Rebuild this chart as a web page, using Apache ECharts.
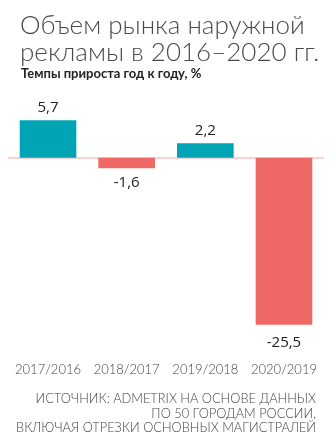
<!DOCTYPE html>
<html>
<head>
<meta charset="utf-8">
<script src="https://cdn.jsdelivr.net/npm/echarts@6/dist/echarts.min.js"></script>
<style>
  html, body { margin: 0; padding: 0; background: #fff; }
  #chart { width: 336px; height: 447px; }
</style>
</head>
<body>
<div id="chart"></div>
<script>
// Year-over-year growth of the outdoor advertising market, %
const periods = ['2017/2016', '2018/2017', '2019/2018', '2020/2019'];
const growth = [5.7, -1.6, 2.2, -25.5];

const titleText = 'Объем рынка наружной\nрекламы в 2016–2020 гг.';
const subtitleText = 'Темпы прироста год к году, %';
const sourceText = 'ИСТОЧНИК: ADMETRIX НА ОСНОВЕ ДАННЫХ\nПО 50 ГОРОДАМ РОССИИ,\nВКЛЮЧАЯ ОТРЕЗКИ ОСНОВНЫХ МАГИСТРАЛЕЙ';

const TEAL = '#00A4B4';
const CORAL = '#EE6966';

const chart = echarts.init(document.getElementById('chart'), null, { renderer: 'canvas' });

const fmt = v => String(v).replace('.', ',');

chart.setOption({
  backgroundColor: '#ffffff',
  animation: false,
  title: [
    {
      text: titleText,
      left: 15, top: 7,
      textStyle: { fontFamily: 'Lato', fontWeight: 300, fontSize: 26, lineHeight: 27, color: '#4a4a4a' }
    },
    {
      text: subtitleText,
      left: 16, top: 62,
      textStyle: { fontFamily: 'Lato', fontWeight: 'bold', fontSize: 13, color: '#222' }
    }
  ],
  graphic: [{
    type: 'text',
    x: 316, y: 392,
    style: {
      text: sourceText,
      align: 'right',
      verticalAlign: 'top',
      fontFamily: 'Lato', fontWeight: 300, fontSize: 12.8, lineHeight: 14.3,
      fill: '#444'
    }
  }],
  grid: { left: 8.7, right: 12.7, top: 118.4, height: 209.6, containLabel: false },
  xAxis: {
    type: 'category',
    data: periods,
    axisLine: { onZero: true, lineStyle: { color: '#F8C4C2', width: 1.5 } },
    axisTick: { show: false },
    axisLabel: {
      show: true,
      interval: 0,
      margin: 35,
      fontFamily: 'Lato',
      fontWeight: 300,
      fontSize: 13,
      color: '#444'
    }
  },
  yAxis: {
    type: 'value',
    min: -26, max: 6,
    show: false,
    splitLine: { show: false }
  },
  series: [{
    type: 'bar',
    barWidth: '72%',
    data: growth.map((v, i) => ({
      value: v,
      itemStyle: { color: v >= 0 ? TEAL : CORAL },
      label: {
        show: true,
        position: v >= 0 ? 'top' : 'bottom',
        distance: v >= 0 ? 5 : (v < -10 ? 11 : 7)
      }
    })),
    label: {
      formatter: p => fmt(p.value),
      fontFamily: 'Open Sans',
      fontSize: 15,
      color: '#222'
    }
  }]
});
</script>
</body>
</html>
